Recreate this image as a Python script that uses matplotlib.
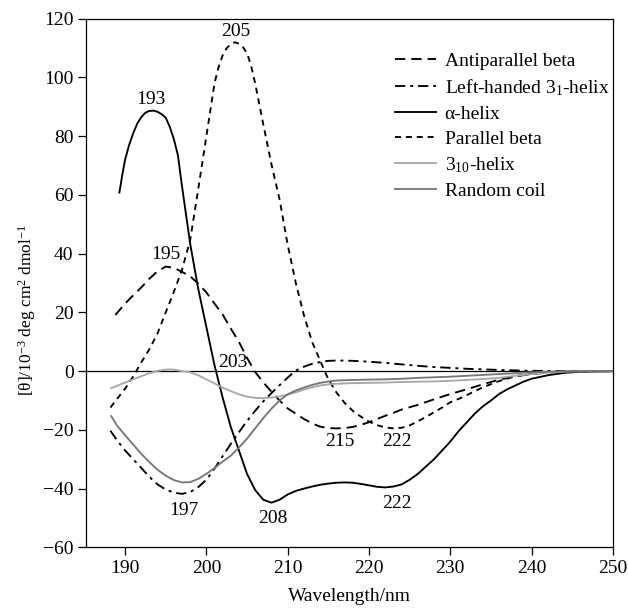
import matplotlib
matplotlib.use("Agg")
import matplotlib.pyplot as plt

plt.rcParams["font.family"] = ["Liberation Serif", "DejaVu Serif"]
plt.rcParams["mathtext.fontset"] = "custom"
plt.rcParams["mathtext.rm"] = "Liberation Serif"
plt.rcParams["mathtext.it"] = "Liberation Serif:italic"
plt.rcParams["font.size"] = 14

# --- CD spectra of secondary-structure types (x: wavelength / nm, y: [theta] / 1e3) ---
alpha_x = [189.3, 189.7, 190, 190.5, 191, 191.5, 192, 192.5, 193, 193.5, 194, 194.5, 195, 195.5,
           196, 196.5, 197, 198, 199, 200, 201, 202,
           203, 204, 205, 206, 207, 208, 209, 210, 211, 212, 213, 214, 215, 216, 217, 218,
           219, 220, 221, 222, 223, 224, 225, 226, 227, 228, 229, 230, 231, 232, 233, 234,
           235, 236, 237, 238, 239, 240, 242, 244, 246, 250]
alpha_y = [60.8, 67.5, 72, 77, 81, 84.3, 86.5, 88, 88.6, 88.7, 88.3, 87.5, 86.3, 83.2,
           79, 73.5, 63, 43.5, 28, 15, 2, -9,
           -19, -27, -35, -40.5, -43.8, -44.8, -43.8, -42, -40.8, -40, -39.3, -38.7, -38.3, -38, -37.9, -38,
           -38.4, -38.9, -39.4, -39.6, -39.3, -38.6, -37, -35, -32.5, -30, -27, -24, -20.5, -17.5, -14.5, -12,
           -10, -7.8, -6.2, -4.9, -3.6, -2.6, -1.4, -0.6, -0.2, 0]

par_x = [188.2, 189, 190, 191, 192, 193, 194, 195, 196, 197, 198, 199, 200, 201, 201.5, 202,
         202.5, 203, 203.5, 204, 204.5, 205, 205.5, 206, 207, 208, 209, 210, 211, 212, 213, 214,
         215, 216, 217, 218,
         219, 220, 221, 222, 223, 224, 225, 226, 227, 228, 229, 230, 231, 232, 234, 236,
         238, 240, 242, 244, 246, 250]
par_y = [-12.4, -9.5, -6, -1.8, 3, 7.5, 12.9, 20, 27, 34.5, 44.5, 62, 80, 98, 103.5, 107.5,
         110, 111.3, 112, 111.5, 110.3, 108.3, 104, 98, 84, 70.5, 58.5, 43, 30, 19, 10, 3.5,
         -2.8, -7.3, -10.8, -13.5,
         -15.5, -17.2, -18.4, -19.2, -19.5, -19.3, -18.5, -17.1, -15.6, -14, -12.4, -10.6, -9.5, -8.2, -5.5, -3.4,
         -1.7, -0.9, -0.4, -0.15, -0.05, 0]

anti_x = [188.8, 190, 191, 192, 193, 194, 195, 196, 197, 198, 199, 200, 201, 202, 203, 204,
          205, 206, 207, 208, 209, 210, 211, 212, 213, 214, 215, 216, 217, 218, 219, 220,
          221, 222, 223, 224, 226, 228, 230, 232, 234, 236, 238, 240, 242, 244, 246, 250]
anti_y = [19.1, 23, 25.8, 28.5, 31.5, 34, 35.6, 35.2, 33.8, 32.3, 29.8, 26.8, 23, 19.3, 14.5, 10,
          4.5, -0.3, -3.8, -7, -10, -12.7, -14.5, -16.3, -17.8, -18.9, -19.4, -19.5, -19.4, -19, -18.3, -17.4,
          -16.3, -15.2, -14.2, -13.1, -11.5, -9.6, -7.8, -6.2, -4.5, -2.9, -1.8, -1.0, -0.5, -0.2, -0.05, 0]

lh_x = [188.2, 189, 190, 191, 192, 193, 194, 195, 196, 197, 198, 199, 200, 201, 202, 203,
        204, 205, 206, 207, 208, 209, 210, 211, 212, 213, 214, 215, 216, 217, 218, 220,
        222, 224, 226, 228, 230, 232, 234, 236, 238, 240, 244, 250]
lh_y = [-20.3, -23.5, -27, -30, -33, -36, -38.6, -40.3, -41.4, -41.8, -41.2, -39.5, -37, -33.2, -29, -24.8,
        -20.8, -17, -13.5, -10.3, -7.5, -4.8, -2.2, 0.2, 1.5, 2.5, 3.1, 3.5, 3.6, 3.6, 3.5, 3.2,
        2.8, 2.3, 1.8, 1.4, 1.1, 0.8, 0.6, 0.4, 0.25, 0.1, 0, 0]

h310_x = [188.3, 189, 190, 191, 192, 193, 194, 195, 195.6, 196, 197, 198, 199, 200, 201, 202,
          203, 204, 205, 206, 207, 208, 209, 210, 211, 212, 213, 214, 215, 216, 218, 220,
          222, 224, 226, 228, 230, 232, 234, 236, 238, 240, 242, 244, 246, 250]
h310_y = [-5.8, -5, -3.9, -2.8, -1.7, -0.7, 0.1, 0.5, 0.6, 0.5, 0, -0.4, -1.4, -2.8, -4.2, -5.6,
          -6.8, -7.9, -8.7, -9.1, -9.2, -9, -8.6, -8, -7.2, -6.3, -5.5, -4.9, -4.5, -4.3, -4.1, -4,
          -3.9, -3.7, -3.6, -3.5, -3.3, -3.0, -2.7, -2.3, -1.6, -1.0, -0.5, -0.2, -0.05, 0]

coil_x = [188.3, 189, 190, 191, 192, 193, 194, 195, 196, 197, 198, 199, 200, 201, 202, 203,
          204, 205, 206, 207, 208, 209, 210, 211, 212, 213, 214, 215, 216, 218, 220, 222,
          224, 226, 228, 230, 232, 234, 236, 238, 240, 242, 244, 250]
coil_y = [-15.3, -18.5, -21.8, -25, -28.2, -31, -33.6, -35.6, -37.1, -37.9, -37.8, -36.7, -35, -33, -30.8, -28.8,
          -26, -23, -19.5, -16, -12.8, -10, -7.9, -6.6, -5.6, -4.7, -4, -3.5, -3.2, -3, -2.9, -2.8,
          -2.6, -2.3, -2.1, -1.9, -1.6, -1.3, -1.0, -0.7, -0.4, -0.2, -0.05, 0]

# Band-position annotations: text, x, y (data units)
band_labels = ["193", "205", "195", "203", "197", "208", "215", "222", "222"]
band_x = [193.2, 203.6, 195.0, 203.2, 197.2, 208.2, 216.4, 223.4, 223.4]
band_y = [92.4, 115.7, 39.6, 2.9, -47.6, -50.1, -24.0, -24.0, -45.2]

x_ticks = [190, 200, 210, 220, 230, 240, 250]
y_ticks = [-60, -40, -20, 0, 20, 40, 60, 80, 100, 120]

fig = plt.figure(figsize=(6.28, 6.08), dpi=100)
ax = fig.add_axes([0.137, 0.0998, 0.839, 0.8694])

lw = 1.35
ax.axhline(0, color="black", lw=0.9, zorder=1)
ax.plot(anti_x, anti_y, color="black", lw=lw, linestyle=(0, (5.5, 3.2)), label="Antiparallel beta")
ax.plot(lh_x, lh_y, color="black", lw=lw, linestyle=(0, (5.5, 2.6, 1.6, 2.6)),
        label="Left-handed 3$_1$-helix")
ax.plot(alpha_x, alpha_y, color="black", lw=lw, label="\u03b1-helix")
ax.plot(par_x, par_y, color="black", lw=lw, linestyle=(0, (3.2, 2.6)), label="Parallel beta")
ax.plot(h310_x, h310_y, color="#a8a8a8", lw=lw, label="3$_{10}$-helix")
ax.plot(coil_x, coil_y, color="#777777", lw=lw, label="Random coil")

for t, x, y in zip(band_labels, band_x, band_y):
    ax.text(x, y, t, ha="center", va="center", fontsize=14)

ax.set_xlim(185.2, 250)
ax.set_ylim(-60, 120)
ax.set_xticks(x_ticks)
ax.set_yticks(y_ticks)
ax.tick_params(direction="out", length=5.5, width=0.9, labelsize=14)
for s in ax.spines.values():
    s.set_linewidth(0.9)

ax.set_xlabel("Wavelength/nm", fontsize=14, labelpad=8)
fig.text(27 / 628, 1 - 310 / 608, "[\u03b8]/10$^{-3}$ deg cm$^{2}$ dmol$^{-1}$",
         rotation=90, ha="center", va="center", fontsize=12.5)

ax.legend(loc="upper left", bbox_to_anchor=(395 / 628, 1 - 52 / 608),
          bbox_transform=fig.transFigure, frameon=False, borderpad=0, borderaxespad=0,
          handlelength=2.1, handletextpad=0.45, labelspacing=0.38, fontsize=14)

fig.savefig("out.png", dpi=100)
